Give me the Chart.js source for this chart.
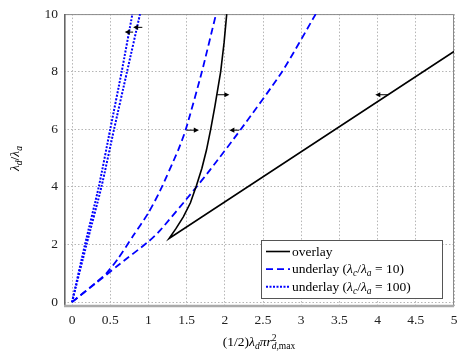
<!DOCTYPE html>
<html>
<head>
<meta charset="utf-8">
<script src="https://cdn.jsdelivr.net/npm/chart.js@4/dist/chart.umd.min.js"></script>
<style>
  html, body { margin:0; padding:0; background:#fff; }
  #wrap { width:467px; height:360px; }
</style>
</head>
<body>
<div id="wrap"><canvas id="c" width="467" height="360"></canvas></div>
<script>
// ===== Data =====
const overlayX = [2.025, 1.99, 1.946, 1.87, 1.815, 1.76, 1.70, 1.63, 1.55, 1.457, 1.36, 1.27, 5.0];
const overlayY = [10, 9, 8, 6.8, 6.0, 5.28, 4.65, 4.06, 3.45, 2.96, 2.55, 2.21, 8.7];

const under10UpX = [0, 0.3, 0.45, 0.6, 0.8, 1.0, 1.15, 1.39, 1.49, 1.70, 1.885];
const under10UpY = [0, 0.65, 1.0, 1.5, 2.3, 3.1, 3.85, 5.28, 6, 8, 10];
const under10LoX = [0, 0.3, 0.6, 1.0, 1.15, 1.59, 1.81, 2.21, 2.75, 3.19];
const under10LoY = [0, 0.63, 1.27, 2.1, 2.48, 3.87, 4.6, 6, 8, 10];

const under100AX = [0, 0.17, 0.35, 0.50, 0.65, 0.79];
const under100AY = [0, 2, 4, 6, 8, 10];
const under100BX = [0, 0.19, 0.385, 0.55, 0.72, 0.89];
const under100BY = [0, 2, 4, 6, 8, 10];

// small direction arrows: tail x, head x, y
const arrowTail = [0.80, 0.92, 1.50, 2.19, 1.90, 4.14];
const arrowHead = [0.69, 0.80, 1.66, 2.06, 2.06, 3.97];
const arrowY    = [9.375, 9.54, 5.97, 5.97, 7.2, 7.2];

const legendLabels = ["overlay", "underlay (λc/λa = 10)", "underlay (λc/λa = 100)"];

const BLUE = "#0000ff";
const FONT = "'Liberation Serif', 'DejaVu Serif', serif";
const DASH = [7,4], DOT = [2,1.5];

function pts(xs, ys){ return xs.map((x,i)=>({x, y:ys[i]})); }

// ===== rich text (italic / sub / sup) =====
function drawRich(ctx, parts, x, y, align){
  const size = 13.5, small = 9.5;
  const fontOf = p => (p.i ? "italic " : "") + (p.pos ? small : size) + "px " + FONT;
  let w = 0;
  const widths = parts.map(p => { ctx.font = fontOf(p); return ctx.measureText(p.t).width; });
  parts.forEach((p,k)=>{ if (!p.noadv) w += widths[k]; });
  let cx = align === "center" ? x - w/2 : x;
  ctx.textBaseline = "alphabetic";
  ctx.textAlign = "left";
  parts.forEach((p,k)=>{
    ctx.font = fontOf(p);
    let dy = 0;
    if (p.pos === "sub") dy = 3;
    if (p.pos === "sup") dy = -5;
    ctx.fillText(p.t, cx, y + dy);
    if (!p.noadv) cx += widths[k];
  });
  return w;
}

const legendParts = [
  [{t:"overlay"}],
  [{t:"underlay ("},{t:"λ",i:1},{t:"c",i:1,pos:"sub"},{t:"/"},{t:"λ",i:1},{t:"a",i:1,pos:"sub"},{t:" = 10)"}],
  [{t:"underlay ("},{t:"λ",i:1},{t:"c",i:1,pos:"sub"},{t:"/"},{t:"λ",i:1},{t:"a",i:1,pos:"sub"},{t:" = 100)"}]
];

const decorPlugin = {
  id: "decor",
  beforeDatasetsDraw(chart){
    const {ctx, chartArea:a} = chart;
    ctx.save();
    // frame
    ctx.strokeStyle = "#8a8a8a"; ctx.lineWidth = 1;
    ctx.beginPath();
    ctx.moveTo(a.left, a.top+0.5); ctx.lineTo(a.right-0.5, a.top+0.5); ctx.lineTo(a.right-0.5, a.bottom);
    ctx.stroke();
    ctx.strokeStyle = "#666"; ctx.lineWidth = 1.6;
    ctx.beginPath(); ctx.moveTo(a.left+0.8, a.top); ctx.lineTo(a.left+0.8, a.bottom); ctx.stroke();
    ctx.strokeStyle = "#aaa"; ctx.lineWidth = 2.5;
    ctx.beginPath(); ctx.moveTo(a.left, a.bottom-1); ctx.lineTo(a.right, a.bottom-1); ctx.stroke();
    ctx.restore();
  },
  afterDatasetsDraw(chart){
    const {ctx, chartArea:a, scales:{x, y}} = chart;
    ctx.save();
    // arrows
    ctx.strokeStyle = "#000"; ctx.fillStyle = "#000"; ctx.lineWidth = 1;
    arrowTail.forEach((tx,k)=>{
      const px0 = x.getPixelForValue(tx), px1 = x.getPixelForValue(arrowHead[k]);
      const py = y.getPixelForValue(arrowY[k]);
      const dir = Math.sign(px1 - px0);
      ctx.beginPath(); ctx.moveTo(px0, py); ctx.lineTo(px1 - dir*3, py); ctx.stroke();
      ctx.beginPath(); ctx.moveTo(px1, py); ctx.lineTo(px1 - dir*5, py-2.6); ctx.lineTo(px1 - dir*5, py+2.6); ctx.closePath(); ctx.fill();
    });

    // legend
    const lx = 261, ly = 240, lw = 181, lh = 58;
    ctx.fillStyle = "#fff"; ctx.fillRect(lx, ly, lw, lh);
    ctx.strokeStyle = "#555"; ctx.lineWidth = 1;
    ctx.strokeRect(lx+0.5, ly+0.5, lw, lh);
    const styles = [
      {c:"#000", d:[], w:1.6}, {c:BLUE, d:DASH, w:1.8}, {c:BLUE, d:DOT, w:2}
    ];
    legendParts.forEach((parts,k)=>{
      const yy = ly + 11.5 + k*17.6;
      ctx.strokeStyle = styles[k].c; ctx.lineWidth = styles[k].w; ctx.setLineDash(styles[k].d);
      ctx.beginPath(); ctx.moveTo(lx+5, yy); ctx.lineTo(lx+29, yy); ctx.stroke();
      ctx.setLineDash([]);
      ctx.fillStyle = "#000";
      drawRich(ctx, parts, lx+31, yy+4, "left");
    });

    // axis titles
    ctx.fillStyle = "#000";
    drawRich(ctx, [{t:"(1/2)"},{t:"λ",i:1},{t:"d",i:1,pos:"sub"},{t:"π",i:1},{t:"r",i:1},
      {t:"2",pos:"sup",noadv:1},{t:"d",i:1,pos:"sub"},{t:",max",pos:"sub"}], (a.left+a.right)/2, 346, "center");
    ctx.translate(19, (a.top+a.bottom)/2 - 2);
    ctx.rotate(-Math.PI/2);
    drawRich(ctx, [{t:"λ",i:1},{t:"d",i:1,pos:"sub"},{t:"/"},{t:"λ",i:1},{t:"a",i:1,pos:"sub"}], 0, 0, "center");
    ctx.restore();
  }
};

const lineDs = (data, color, dash, width, tension) => ({
  data, showLine:true, borderColor:color, borderWidth:width, borderDash:dash,
  pointRadius:0, fill:false, tension
});

const fmt = v => String(Math.round(v*10)/10);

new Chart(document.getElementById("c"), {
  type: "scatter",
  data: { datasets: [
    lineDs(pts(overlayX, overlayY), "#000", [], 1.6, 0),
    lineDs(pts(under10UpX, under10UpY), BLUE, DASH, 1.8, 0.2),
    lineDs(pts(under10LoX, under10LoY), BLUE, DASH, 1.8, 0.2),
    lineDs(pts(under100AX, under100AY), BLUE, DOT, 2, 0.2),
    lineDs(pts(under100BX, under100BY), BLUE, DOT, 2, 0.2)
  ]},
  options: {
    responsive:false, animation:false,
    layout: { padding: { top:14, right:13, left:0, bottom:0 } },
    plugins: { legend:{display:false}, tooltip:{enabled:false} },
    scales: {
      x: {
        type:"linear", min:-0.105, max:5,
        afterFit: s => { s.height = 53; },
        ticks: { stepSize:0.5, includeBounds:false, padding:5, color:"#222", font:{family:FONT, size:13.5}, callback:fmt },
        grid: { color:"#b5b5b5", lineWidth:1, drawTicks:false },
        border: { display:false, dash:[1.5,2] }
      },
      y: {
        type:"linear", min:-0.17, max:10,
        afterFit: s => { s.width = 64; },
        ticks: { stepSize:2, includeBounds:false, padding:6, color:"#222", font:{family:FONT, size:13.5}, callback:fmt },
        grid: { color:"#b5b5b5", lineWidth:1, drawTicks:false },
        border: { display:false, dash:[1.5,2] }
      }
    }
  },
  plugins: [decorPlugin]
});
</script>
</body>
</html>
